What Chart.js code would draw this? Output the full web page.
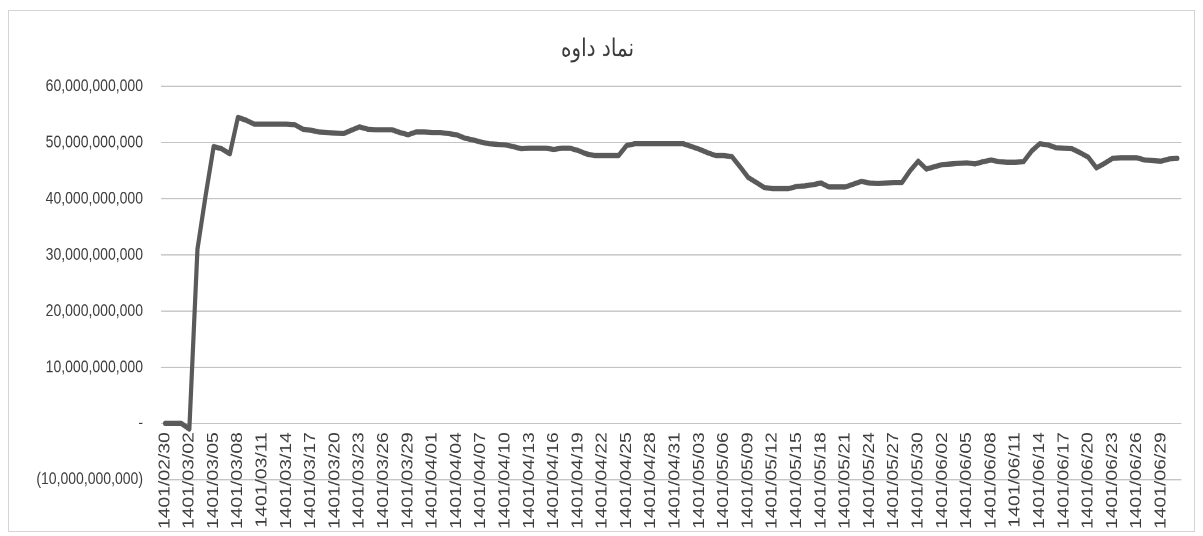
<!DOCTYPE html>
<html>
<head>
<meta charset="utf-8">
<script src="https://cdn.jsdelivr.net/npm/chart.js@4.4.1/dist/chart.umd.min.js"></script>
<style>
  html, body { margin:0; padding:0; background:#fff; width:1203px; height:536px; overflow:hidden; }
  #frame { position:absolute; left:8px; top:10px; width:1187px; height:522px; border:1px solid #d4d4d4; box-sizing:border-box; }
  #wrap { position:absolute; left:0; top:0; width:1203px; height:429px; transform-origin:0 0; transform:scaleY(1.2494); }
</style>
</head>
<body>
<div id="frame"></div>
<div id="wrap"><canvas id="c" width="1203" height="429"></canvas></div>
<script>
// Chart title
const chartTitle = 'نماد داوه';

// Categories (Solar Hijri calendar days)
const dates = [
  '1401/02/30','1401/02/31',
  '1401/03/01','1401/03/02','1401/03/03','1401/03/04','1401/03/05','1401/03/06','1401/03/07','1401/03/08','1401/03/09','1401/03/10',
  '1401/03/11','1401/03/12','1401/03/13','1401/03/14','1401/03/15','1401/03/16','1401/03/17','1401/03/18','1401/03/19','1401/03/20',
  '1401/03/21','1401/03/22','1401/03/23','1401/03/24','1401/03/25','1401/03/26','1401/03/27','1401/03/28','1401/03/29','1401/03/30','1401/03/31',
  '1401/04/01','1401/04/02','1401/04/03','1401/04/04','1401/04/05','1401/04/06','1401/04/07','1401/04/08','1401/04/09','1401/04/10',
  '1401/04/11','1401/04/12','1401/04/13','1401/04/14','1401/04/15','1401/04/16','1401/04/17','1401/04/18','1401/04/19','1401/04/20',
  '1401/04/21','1401/04/22','1401/04/23','1401/04/24','1401/04/25','1401/04/26','1401/04/27','1401/04/28','1401/04/29','1401/04/30','1401/04/31',
  '1401/05/01','1401/05/02','1401/05/03','1401/05/04','1401/05/05','1401/05/06','1401/05/07','1401/05/08','1401/05/09','1401/05/10',
  '1401/05/11','1401/05/12','1401/05/13','1401/05/14','1401/05/15','1401/05/16','1401/05/17','1401/05/18','1401/05/19','1401/05/20',
  '1401/05/21','1401/05/22','1401/05/23','1401/05/24','1401/05/25','1401/05/26','1401/05/27','1401/05/28','1401/05/29','1401/05/30','1401/05/31',
  '1401/06/01','1401/06/02','1401/06/03','1401/06/04','1401/06/05','1401/06/06','1401/06/07','1401/06/08','1401/06/09','1401/06/10',
  '1401/06/11','1401/06/12','1401/06/13','1401/06/14','1401/06/15','1401/06/16','1401/06/17','1401/06/18','1401/06/19','1401/06/20',
  '1401/06/21','1401/06/22','1401/06/23','1401/06/24','1401/06/25','1401/06/26','1401/06/27','1401/06/28','1401/06/29','1401/06/30','1401/06/31'
];

// Series values, in billions
const valuesBillion = [
  0, 0, 0, -1.0, 31.0, 40.5, 49.3, 48.9, 48.0, 54.5,
  54.0, 53.3, 53.3, 53.3, 53.3, 53.3, 53.2, 52.4, 52.2, 51.9,
  51.8, 51.7, 51.6, 52.2, 52.8, 52.4, 52.3, 52.3, 52.3, 51.8,
  51.4, 51.9, 51.9, 51.8, 51.8, 51.6, 51.4, 50.8, 50.5, 50.1,
  49.8, 49.7, 49.6, 49.3, 48.9, 49.0, 49.0, 49.0, 48.8, 49.0,
  49.0, 48.6, 48.0, 47.7, 47.7, 47.7, 47.7, 49.5, 49.8, 49.8,
  49.8, 49.8, 49.8, 49.8, 49.8, 49.3, 48.8, 48.2, 47.7, 47.7,
  47.5, 45.7, 43.8, 42.9, 42.0, 41.8, 41.8, 41.8, 42.2, 42.3,
  42.5, 42.8, 42.1, 42.1, 42.1, 42.6, 43.1, 42.8, 42.7, 42.8,
  42.9, 42.9, 45.0, 46.7, 45.3, 45.7, 46.1, 46.2, 46.3, 46.4,
  46.2, 46.6, 46.9, 46.6, 46.5, 46.5, 46.6, 48.5, 49.8, 49.6,
  49.1, 49.0, 48.9, 48.2, 47.4, 45.5, 46.3, 47.2, 47.3, 47.3,
  47.3, 46.9, 46.8, 46.7, 47.1, 47.2
];
const UNIT = 1e9;

// Y axis ticks
const yMin = -10000000000;
const yMax = 60000000000;
const yStep = 10000000000;
const labelEvery = 3;

function fmtExcel(v) {
  if (v === 0) return '-';
  const s = Math.abs(v).toLocaleString('en-US');
  return v < 0 ? '(' + s + ')' : s;
}

const ctx = document.getElementById('c');
new Chart(ctx, {
  type: 'line',
  data: {
    labels: dates,
    datasets: [{
      label: chartTitle,
      data: valuesBillion.map(v => v * UNIT),
      borderColor: '#5a5a5a',
      borderWidth: 4.2,
      pointRadius: 0,
      tension: 0,
      borderJoinStyle: 'round',
      borderCapStyle: 'round',
      fill: false
    }]
  },
  options: {
    responsive: false,
    animation: false,
    devicePixelRatio: 2,
    layout: { padding: { top: 28, left: 0, right: 8, bottom: 45.2 } },
    plugins: {
      legend: { display: false },
      tooltip: { enabled: false },
      title: {
        display: true,
        text: chartTitle,
        color: '#3a3a3a',
        font: { family: "'DejaVu Sans', sans-serif", size: 20, weight: 'normal', lineHeight: 1.2 },
        padding: { top: 0, bottom: 17.2 }
      }
    },
    scales: {
      x: {
        type: 'category',
        offset: true,
        position: { y: 0 },
        grid: { display: false, drawTicks: false },
        border: { display: false },
        ticks: {
          autoSkip: false,
          maxRotation: 90,
          minRotation: 90,
          padding: 7,
          color: '#3c3c3c',
          font: { family: "'Liberation Sans', Arial, sans-serif", size: 15.5 },
          callback: function (val, idx) { return idx % labelEvery === 0 ? dates[idx] : ''; }
        }
      },
      y: {
        min: yMin,
        max: yMax,
        afterFit: function (scale) { scale.width = 161; },
        grid: { color: '#c4c4c4', lineWidth: 1, drawTicks: false },
        border: { display: false },
        ticks: {
          stepSize: yStep,
          padding: 18,
          color: '#3c3c3c',
          font: { family: "'Liberation Sans', Arial, sans-serif", size: 14 },
          callback: function (v) { return fmtExcel(v); }
        }
      }
    }
  }
});
</script>
</body>
</html>
